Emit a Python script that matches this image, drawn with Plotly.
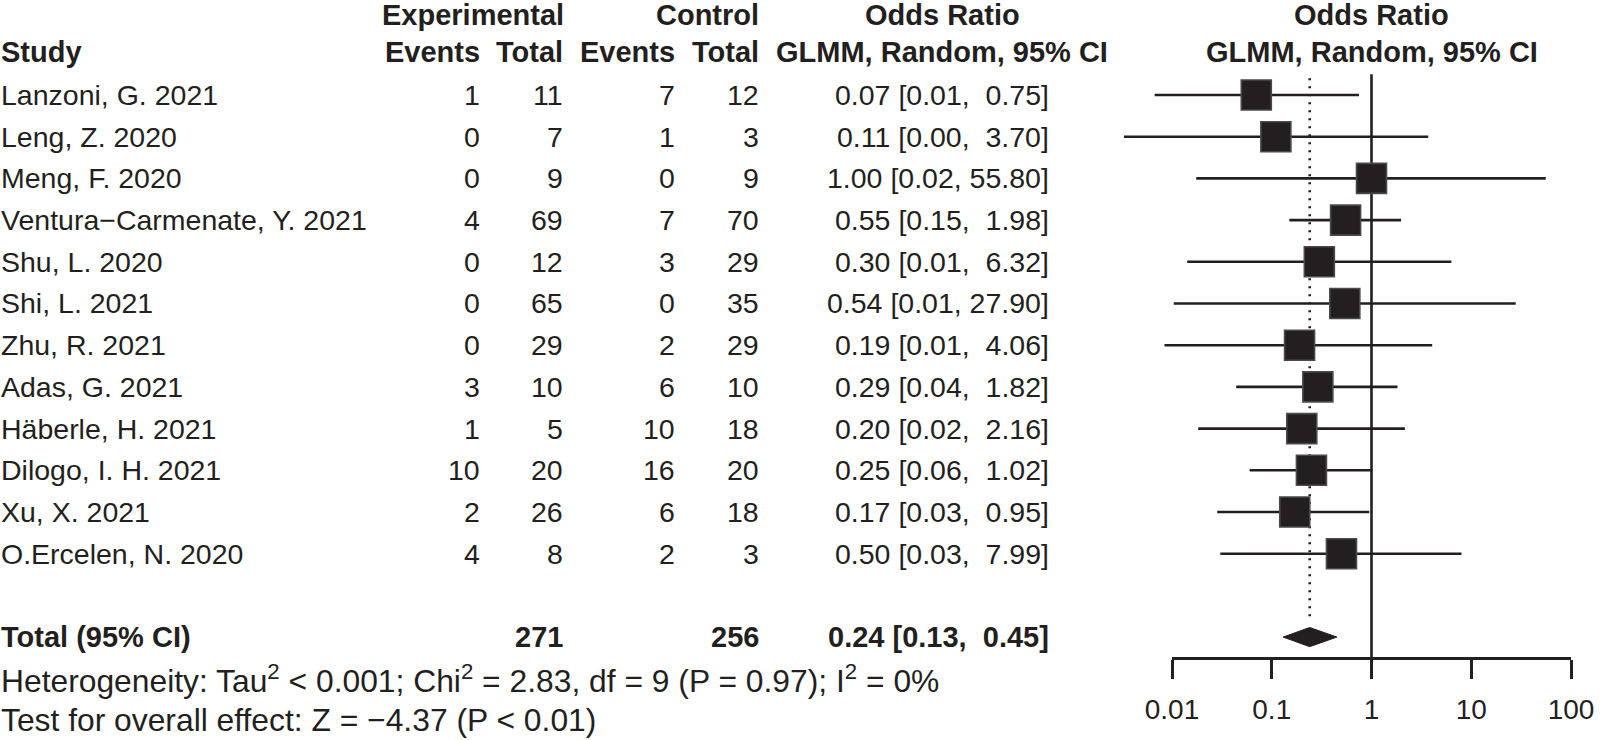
import math
import plotly.graph_objects as go

# ---------------- data ----------------
studies = ["Lanzoni, G. 2021", "Leng, Z. 2020", "Meng, F. 2020",
           "Ventura\u2212Carmenate, Y. 2021", "Shu, L. 2020", "Shi, L. 2021",
           "Zhu, R. 2021", "Adas, G. 2021", "H\u00e4berle, H. 2021",
           "Dilogo, I. H. 2021", "Xu, X. 2021", "O.Ercelen, N. 2020"]
exp_events = [1, 0, 0, 4, 0, 0, 0, 3, 1, 10, 2, 4]
exp_total = [11, 7, 9, 69, 12, 65, 29, 10, 5, 20, 26, 8]
ctrl_events = [7, 1, 0, 7, 3, 0, 2, 6, 10, 16, 6, 2]
ctrl_total = [12, 3, 9, 70, 29, 35, 29, 10, 18, 20, 18, 3]
or_est = [0.07, 0.11, 1.00, 0.55, 0.30, 0.54, 0.19, 0.29, 0.20, 0.25, 0.17, 0.50]
ci_lo = [0.0067, 0.0033, 0.0175, 0.15, 0.0142, 0.0104, 0.0084, 0.044, 0.0183, 0.06, 0.0284, 0.0305]
ci_hi = [0.75, 3.70, 55.80, 1.98, 6.32, 27.90, 4.06, 1.82, 2.16, 1.02, 0.95, 7.99]
pooled_est, pooled_lo, pooled_hi = 0.24, 0.13, 0.45
null_value = 1
tick_vals = [0.01, 0.1, 1, 10, 100]
tick_text = ["0.01", "0.1", "1", "10", "100"]
het_text = ("Heterogeneity: Tau<sup>2</sup> &lt; 0.001; Chi<sup>2</sup> = 2.83, "
            "df = 9 (P = 0.97); I<sup>2</sup> = 0%")
test_text = "Test for overall effect: Z = \u22124.37 (P &lt; 0.01)"

# ---------------- layout constants ----------------
W, H = 1600, 740
ROW_TOP, ROW_BOT = -1.278, 16.468
PX_DEC = 99.75          # pixels per decade on the forest axis
X001_PX = 1172          # pixel of 0.01 on the forest axis
DATA_DOM = (1080, 1600)
INK = "#231f20"
FONT = "Liberation Sans, Arial, sans-serif"
FS = 28.5
FS_BOLD = 29
FS_HET = 31.8
FS_TICK = 28

rows = list(range(1, len(studies) + 1))
total_row = len(studies) + 2
axis_row = total_row + 0.5
HDR1, HDR2 = -0.92, -0.02


def fmt_ci(e, lo, hi):
    s = f"{e:.2f} [{lo:.2f}, {hi:5.2f}]"
    return s.replace("  ", "\u00a0\u00a0").replace(", ", ",\u00a0")


fig = go.Figure()

# CI lines
xs, ys = [], []
for lo, hi, r in zip(ci_lo, ci_hi, rows):
    xs += [lo, hi, None]
    ys += [r, r, None]
fig.add_trace(go.Scatter(x=xs, y=ys, mode="lines", line=dict(color=INK, width=2.6),
                         showlegend=False, hoverinfo="skip"))
# squares
fig.add_trace(go.Scatter(x=or_est, y=rows, mode="markers",
                         marker=dict(symbol="square", size=30, color=INK,
                                     line=dict(color="#4a4a4a", width=1.6)),
                         showlegend=False, hoverinfo="skip", cliponaxis=False))
# diamond
dh = 0.23
fig.add_trace(go.Scatter(x=[pooled_lo, pooled_est, pooled_hi, pooled_est, pooled_lo],
                         y=[total_row, total_row - dh, total_row, total_row + dh, total_row],
                         mode="lines", fill="toself", fillcolor=INK,
                         line=dict(color=INK, width=1), showlegend=False, hoverinfo="skip"))
# dummy trace for visible axis
fig.add_trace(go.Scatter(x=[0.01, 100], y=[None, None], xaxis="x2", yaxis="y",
                         mode="lines", showlegend=False, hoverinfo="skip"))

# reference lines
fig.add_shape(type="line", xref="x", yref="y", x0=null_value, x1=null_value, y0=0.5, y1=axis_row,
              line=dict(color=INK, width=2.6), layer="below")
fig.add_shape(type="line", xref="x", yref="y", x0=pooled_est, x1=pooled_est,
              y0=0.6, y1=total_row - 0.36, line=dict(color=INK, width=2.6, dash="2px,6px"),
              layer="below")

anns = []


def ann(xpx, row, text, anchor="right", bold=False, xref="paper", size=None):
    t = f"<b>{text}</b>" if bold else text
    sz = size if size else (FS_BOLD if bold else FS)
    anns.append(dict(x=xpx / W if xref == "paper" else xpx, xref=xref, y=row, yref="y",
                     text=t, showarrow=False, xanchor=anchor, yanchor="middle",
                     borderpad=0, font=dict(family=FONT, size=sz, color=INK)))


col_right = [481, 564, 676, 760]
OR_RIGHT = 1050
# headers
ann(565, HDR1, "Experimental", "right", True)
ann(760, HDR1, "Control", "right", True)
ann(942, HDR1, "Odds Ratio", "center", True)
ann(942, HDR2, "GLMM, Random, 95% CI", "center", True)
# forest-panel headers centred on the null line (log axis -> log10 coordinate)
ann(math.log10(null_value), HDR1, "Odds Ratio", "center", True, xref="x")
ann(math.log10(null_value), HDR2, "GLMM, Random, 95% CI", "center", True, xref="x")
ann(0, HDR2, "Study", "left", True)
for xr, lab in zip(col_right, ["Events", "Total", "Events", "Total"]):
    ann(xr, HDR2, lab, "right", True)

for i, r in enumerate(rows):
    ann(0, r, studies[i], "left")
    for xr, v in zip(col_right, [exp_events[i], exp_total[i], ctrl_events[i], ctrl_total[i]]):
        ann(xr, r, str(v), "right")
    ann(OR_RIGHT, r, fmt_ci(or_est[i], ci_lo[i], ci_hi[i]), "right")

ann(0, total_row, "Total (95% CI)", "left", True)
ann(col_right[1], total_row, str(sum(exp_total)), "right", True)
ann(col_right[3], total_row, str(sum(ctrl_total)), "right", True)
ann(OR_RIGHT, total_row, fmt_ci(pooled_est, pooled_lo, pooled_hi), "right", True)
ann(0, total_row + 1, het_text, "left", size=FS_HET)
ann(0, total_row + 2, test_text, "left", size=FS_HET)

lo_log = -2 - (X001_PX - DATA_DOM[0]) / PX_DEC
hi_log = -2 + (DATA_DOM[1] - X001_PX) / PX_DEC
axis_pos = (ROW_BOT - axis_row) / (ROW_BOT - ROW_TOP)

fig.update_layout(
    width=W, height=H, margin=dict(l=0, r=0, t=0, b=0, pad=0, autoexpand=False),
    paper_bgcolor="white", plot_bgcolor="rgba(0,0,0,0)",
    annotations=anns,
    xaxis=dict(type="log", range=[lo_log, hi_log], domain=[DATA_DOM[0] / W, DATA_DOM[1] / W],
               visible=False, fixedrange=True, automargin=False),
    xaxis2=dict(type="log", range=[-2, 2], domain=[X001_PX / W, (X001_PX + 4 * PX_DEC) / W],
                anchor="free", position=axis_pos, showline=True, linewidth=2.6, linecolor=INK,
                ticks="outside", ticklen=19, tickwidth=2.6, tickcolor=INK, automargin=False,
                tickvals=tick_vals, ticktext=tick_text, showgrid=False, zeroline=False,
                ticklabelstandoff=7,
                tickfont=dict(family=FONT, size=FS_TICK, color=INK), fixedrange=True),
    yaxis=dict(range=[ROW_BOT, ROW_TOP], domain=[0, 1], visible=False, fixedrange=True,
               automargin=False),
    showlegend=False,
)

fig.write_html("out.html", config={"displayModeBar": False},
               post_script="document.body.style.margin='0px';document.body.style.overflow='hidden';")
